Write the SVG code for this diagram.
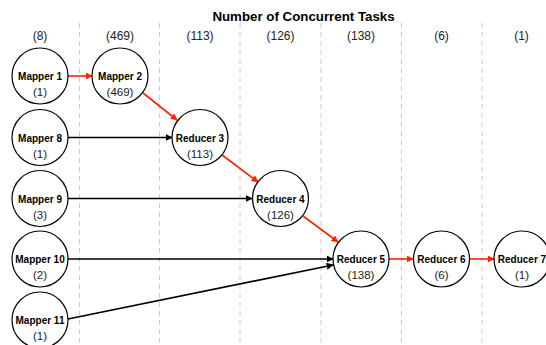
<svg xmlns="http://www.w3.org/2000/svg" width="546" height="345" viewBox="0 0 546 345">
<defs>
<style>
.grid{stroke:#cccccc;stroke-width:1;stroke-dasharray:5,4}
.node circle{fill:#ffffff;stroke:#000000;stroke-width:1.2}
.name{font-family:"Liberation Sans",Arial,sans-serif;font-size:10px;font-weight:bold;fill:#000;text-anchor:middle}
.cnt{font-family:"Liberation Sans",Arial,sans-serif;font-size:11.5px;fill:#222;text-anchor:middle}
.col{font-family:"Liberation Sans",Arial,sans-serif;font-size:12px;fill:#222;text-anchor:middle}
.title{font-family:"Liberation Sans",Arial,sans-serif;font-size:13.3px;font-weight:bold;fill:#000;text-anchor:middle}
.red{stroke:#ff2200;stroke-width:1.6;fill:none}
.blk{stroke:#000000;stroke-width:1.6;fill:none}
</style>
<marker id="ar" viewBox="0 0 10 10" refX="9" refY="5" markerWidth="7" markerHeight="7" markerUnits="userSpaceOnUse" orient="auto"><path d="M0,0 L10,5 L0,10 z" fill="#ff2200"/></marker>
<marker id="ab" viewBox="0 0 10 10" refX="9" refY="5" markerWidth="7" markerHeight="7" markerUnits="userSpaceOnUse" orient="auto"><path d="M0,0 L10,5 L0,10 z" fill="#000000"/></marker>
</defs>
<rect width="546" height="345" fill="#ffffff"/>
<g id="grid">
<line class="grid" x1="79.5" y1="23" x2="79.5" y2="345"/>
<line class="grid" x1="159.5" y1="23" x2="159.5" y2="345"/>
<line class="grid" x1="240" y1="23" x2="240" y2="345"/>
<line class="grid" x1="321" y1="23" x2="321" y2="345"/>
<line class="grid" x1="401.5" y1="23" x2="401.5" y2="345"/>
<line class="grid" x1="482" y1="23" x2="482" y2="345"/>
</g>
<g id="header">
<text class="title" x="303.5" y="21">Number of Concurrent Tasks</text>
<text class="col" x="40" y="39.5">(8)</text>
<text class="col" x="120" y="39.5">(469)</text>
<text class="col" x="200" y="39.5">(113)</text>
<text class="col" x="280.5" y="39.5">(126)</text>
<text class="col" x="361" y="39.5">(138)</text>
<text class="col" x="441.5" y="39.5">(6)</text>
<text class="col" x="521.5" y="39.5">(1)</text>
</g>
<g id="connectors">
<line class="red" x1="68" y1="76" x2="92" y2="76" marker-end="url(#ar)"/>
<line class="red" x1="143" y1="93" x2="177" y2="120" marker-end="url(#ar)"/>
<line class="blk" x1="68" y1="137.5" x2="172" y2="137.5" marker-end="url(#ab)"/>
<line class="red" x1="222" y1="155" x2="258" y2="182" marker-end="url(#ar)"/>
<line class="blk" x1="68" y1="198.5" x2="252" y2="198.5" marker-end="url(#ab)"/>
<line class="red" x1="303" y1="216" x2="338" y2="242" marker-end="url(#ar)"/>
<line class="blk" x1="68" y1="259" x2="333" y2="259" marker-end="url(#ab)"/>
<line class="blk" x1="68" y1="319" x2="333" y2="265" marker-end="url(#ab)"/>
<line class="red" x1="389" y1="259" x2="413" y2="259" marker-end="url(#ar)"/>
<line class="red" x1="469" y1="259" x2="494" y2="259" marker-end="url(#ar)"/>
</g>
<g id="mapper1" class="node"><circle cx="40" cy="76" r="28"/><text class="name" x="40" y="80">Mapper 1</text><text class="cnt" x="40" y="96">(1)</text></g>
<g id="mapper2" class="node"><circle cx="120" cy="76" r="28"/><text class="name" x="120" y="80">Mapper 2</text><text class="cnt" x="120" y="96">(469)</text></g>
<g id="mapper8" class="node"><circle cx="40" cy="137.5" r="28"/><text class="name" x="40" y="141.5">Mapper 8</text><text class="cnt" x="40" y="157.5">(1)</text></g>
<g id="reducer3" class="node"><circle cx="200" cy="137.5" r="28"/><text class="name" x="200" y="141.5">Reducer 3</text><text class="cnt" x="200" y="157.5">(113)</text></g>
<g id="mapper9" class="node"><circle cx="40" cy="198.5" r="28"/><text class="name" x="40" y="202.5">Mapper 9</text><text class="cnt" x="40" y="218.5">(3)</text></g>
<g id="reducer4" class="node"><circle cx="280.5" cy="198.5" r="28"/><text class="name" x="280.5" y="202.5">Reducer 4</text><text class="cnt" x="280.5" y="218.5">(126)</text></g>
<g id="mapper10" class="node"><circle cx="40" cy="259" r="28"/><text class="name" x="40" y="263">Mapper 10</text><text class="cnt" x="40" y="279">(2)</text></g>
<g id="reducer5" class="node"><circle cx="361" cy="259" r="28"/><text class="name" x="361" y="263">Reducer 5</text><text class="cnt" x="361" y="279">(138)</text></g>
<g id="reducer6" class="node"><circle cx="441.5" cy="259" r="28"/><text class="name" x="441.5" y="263">Reducer 6</text><text class="cnt" x="441.5" y="279">(6)</text></g>
<g id="reducer7" class="node"><circle cx="522" cy="259" r="28"/><text class="name" x="522" y="263">Reducer 7</text><text class="cnt" x="522" y="279">(1)</text></g>
<g id="mapper11" class="node"><circle cx="40" cy="320" r="28"/><text class="name" x="40" y="324">Mapper 11</text><text class="cnt" x="40" y="340">(1)</text></g>
</svg>
